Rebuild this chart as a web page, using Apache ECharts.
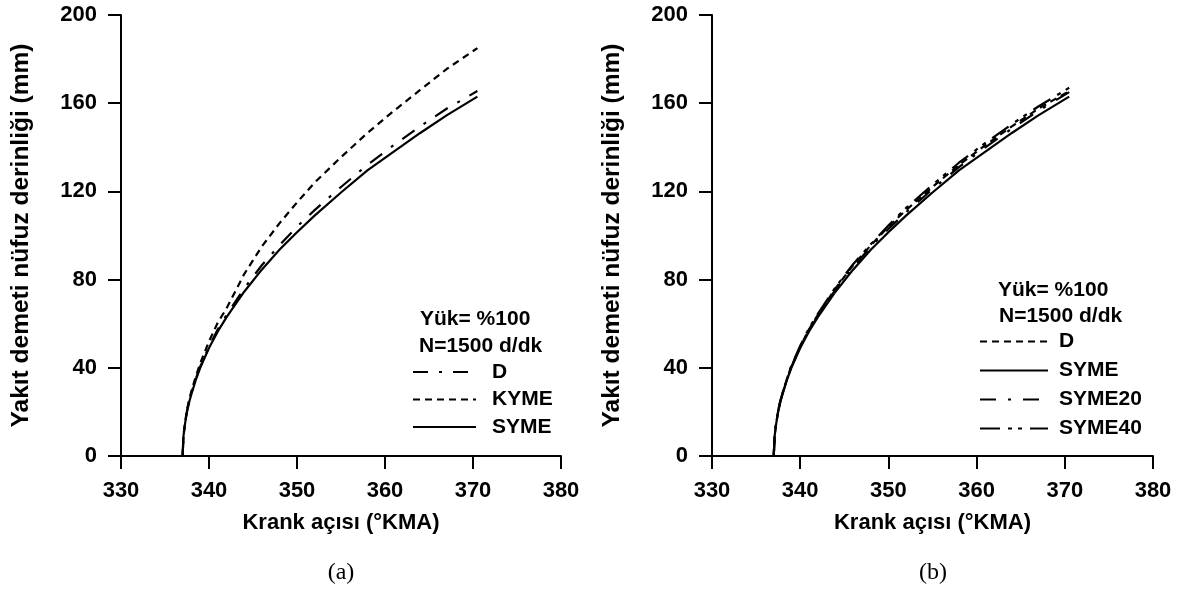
<!DOCTYPE html>
<html>
<head>
<meta charset="utf-8">
<script src="https://cdn.jsdelivr.net/npm/echarts@6/dist/echarts.min.js"></script>
<style>
html,body{margin:0;padding:0;background:#fff;}
#chart{width:1184px;height:599px;}
</style>
</head>
<body>
<div id="chart"></div>
<script>
// ---- data ----
var theta = [337, 337.1, 337.25, 337.5, 337.75, 338, 338.5, 339, 340, 341, 342, 344, 346, 348, 350, 352, 355, 358, 361, 364, 367, 370.5];
var dValues      = [0, 9, 14, 20.5, 25, 28.5, 35, 40.5, 49.5, 57.5, 64, 76, 86.5, 95.5, 104, 111.5, 122, 132, 141, 149.5, 157.5, 165.5];
var kymeValues   = [0, 9, 14.5, 21, 25.5, 29.5, 36, 42, 52, 60.5, 67, 82.5, 95, 105.5, 115, 124, 135.5, 146.5, 156.5, 166, 175.5, 185];
var symeValues   = [0, 9, 14, 20, 24.5, 28, 34.5, 40, 49, 56.5, 63, 74.5, 84.5, 93.5, 101.5, 109, 119.5, 129.5, 138, 146.5, 154.5, 163];
var syme20Values = [0, 9, 14, 20.5, 25, 28.5, 35, 40.5, 49.5, 57, 63.5, 75.5, 85.5, 95, 103, 110.5, 121, 131, 140, 148.5, 156.5, 165];
var syme40Values = [0, 9, 14, 20.5, 25, 28.5, 35, 41, 50, 58, 64.5, 76.5, 87, 96, 104.5, 112.5, 123, 133, 142, 150.5, 158.5, 167];
var xTicks = [330, 340, 350, 360, 370, 380];
var yTicks = [0, 40, 80, 120, 160, 200];
var xTitle = 'Krank açısı (°KMA)';
var yTitle = 'Yakıt demeti nüfuz derinliği (mm)';
var headerLines = ['Yük= %100', 'N=1500 d/dk'];
var captions = ['(a)', '(b)'];

function pairs(vals){ return theta.map(function(t,i){ return [t, vals[i]]; }); }

var FONT = 'Liberation Sans, Arial, sans-serif';
function xAxisCfg(idx){
  return {
    gridIndex: idx, type: 'value', min: xTicks[0], max: xTicks[xTicks.length-1], interval: 10,
    name: xTitle, nameLocation: 'middle', nameGap: 56,
    nameTextStyle: {fontFamily: FONT, fontWeight: 'bold', fontSize: 22, color: '#000'},
    axisLine: {show: true, onZero: false, lineStyle: {color: '#000', width: 2}},
    axisTick: {show: true, inside: false, length: 13, lineStyle: {color: '#000', width: 2}},
    axisLabel: {margin: 24, fontFamily: FONT, fontWeight: 'bold', fontSize: 22, color: '#000'},
    splitLine: {show: false}
  };
}
function yAxisCfg(idx){
  return {
    gridIndex: idx, type: 'value', min: yTicks[0], max: yTicks[yTicks.length-1], interval: 40,
    name: yTitle, nameLocation: 'middle', nameGap: 87, nameRotate: 90,
    nameTextStyle: {fontFamily: FONT, fontWeight: 'bold', fontSize: 24.5, color: '#000'},
    axisLine: {show: true, onZero: false, lineStyle: {color: '#000', width: 2}},
    axisTick: {show: true, inside: false, length: 13, lineStyle: {color: '#000', width: 2}},
    axisLabel: {margin: 24, fontFamily: FONT, fontWeight: 'bold', fontSize: 22, color: '#000'},
    splitLine: {show: false}
  };
}
function line(name, vals, idx, dash){
  return {
    name: name, type: 'line', xAxisIndex: idx, yAxisIndex: idx,
    data: pairs(vals), symbol: 'none', showSymbol: false, smooth: false,
    lineStyle: {color: '#000', width: 2.2, type: dash},
    itemStyle: {color: '#000'},
    emphasis: {disabled: true}
  };
}
var legendText = {fontFamily: FONT, fontWeight: 'bold', fontSize: 21, color: '#000'};

var option = {
  animation: false,
  backgroundColor: '#fff',
  grid: [
    {left: 121, right: 623, top: 15, bottom: 143, containLabel: false},
    {left: 712, right: 31, top: 15, bottom: 143, containLabel: false}
  ],
  xAxis: [xAxisCfg(0), xAxisCfg(1)],
  yAxis: [yAxisCfg(0), yAxisCfg(1)],
  legend: [
    {
      data: ['D', 'KYME', 'SYME'], orient: 'vertical', left: 412, top: 361.5,
      itemWidth: 63, itemHeight: 14, itemGap: 6.5, padding: 0, selectedMode: false,
      itemStyle: {opacity: 0},
      textStyle: Object.assign({padding: [0, 0, 0, 11]}, legendText)
    },
    {
      data: ['D ', 'SYME ', 'SYME20', 'SYME40'], orient: 'vertical', left: 979, top: 331,
      itemWidth: 68, itemHeight: 14, itemGap: 8, padding: 0, selectedMode: false,
      itemStyle: {opacity: 0},
      formatter: function(n){ return n.trim(); },
      textStyle: Object.assign({padding: [0, 0, 0, 6]}, legendText)
    }
  ],
  series: [
    line('D', dValues, 0, [15, 11, 3, 11]),
    line('KYME', kymeValues, 0, [7, 5]),
    line('SYME', symeValues, 0, 'solid'),
    line('D ', dValues, 1, [7, 5]),
    line('SYME ', symeValues, 1, 'solid'),
    line('SYME20', syme20Values, 1, [16, 12, 3, 12]),
    line('SYME40', syme40Values, 1, [20, 8, 4, 6, 4, 8])
  ],
  graphic: [
    {type: 'text', left: 420, top: 309, style: {text: headerLines[0], font: 'bold 21px ' + FONT, fill: '#000'}},
    {type: 'text', left: 419, top: 336, style: {text: headerLines[1], font: 'bold 21px ' + FONT, fill: '#000'}},
    {type: 'text', left: 998, top: 280, style: {text: headerLines[0], font: 'bold 21px ' + FONT, fill: '#000'}},
    {type: 'text', left: 999, top: 306, style: {text: headerLines[1], font: 'bold 21px ' + FONT, fill: '#000'}},
    {type: 'text', x: 341, y: 573, style: {text: captions[0], font: '24px Liberation Serif, Times New Roman, serif', fill: '#000', align: 'center', verticalAlign: 'middle'}},
    {type: 'text', x: 933, y: 573, style: {text: captions[1], font: '24px Liberation Serif, Times New Roman, serif', fill: '#000', align: 'center', verticalAlign: 'middle'}}
  ]
};
var chart = echarts.init(document.getElementById('chart'), null, {renderer: 'canvas'});
chart.setOption(option);
</script>
</body>
</html>
